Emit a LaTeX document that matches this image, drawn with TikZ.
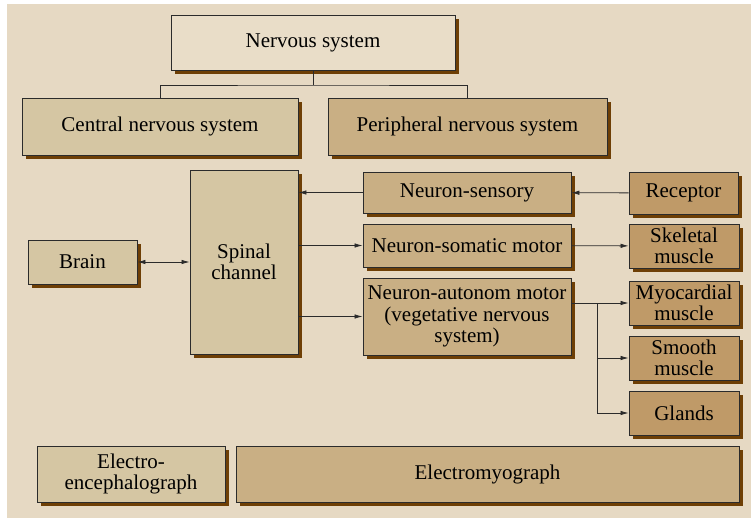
\documentclass[tikz,border=0pt]{standalone}
\usepackage{fontspec}
\setmainfont{Liberation Serif}
\usetikzlibrary{arrows.meta,shadows}
\definecolor{nsback}{HTML}{E6D9C3}
\definecolor{nspale}{HTML}{E9DDC8}
\definecolor{nslite}{HTML}{D5C6A3}
\definecolor{nsmid}{HTML}{C9AF84}
\definecolor{nsdark}{HTML}{BF9A68}
\definecolor{nsshade}{HTML}{6E3F05}
\definecolor{nsline}{HTML}{2B2B2B}
\tikzset{
  bx/.style={draw=nsline, line width=0.9pt, align=center, inner sep=2pt,
    drop shadow={shadow xshift=4pt, shadow yshift=-4pt, fill=nsshade, opacity=1}},
  top/.style={bx, fill=nspale},
  cen/.style={bx, fill=nslite},
  per/.style={bx, fill=nsmid},
  eff/.style={bx, fill=nsdark, minimum width=110pt, minimum height=44pt},
  arr/.style={-{Latex[length=8pt,width=4.5pt]}, line width=0.8pt, color=nsline},
  arr2/.style={{Latex[length=8pt,width=4.5pt]}-{Latex[length=8pt,width=4.5pt]}, line width=0.8pt, color=nsline},
  tree/.style={line width=0.8pt, color=nsline},
}
\begin{document}
\begin{tikzpicture}[x=1pt, y=-1pt, font=\rmfamily\fontsize{21}{21.5}\selectfont,
    nrn/.style={per, minimum width=208pt}]
    \useasboundingbox (0,0) rectangle (751,518);
    \fill[nsback] (7,4) rectangle (751,518);
    % hierarchy
    \node[top, minimum width=284pt, minimum height=55pt] (ns) at (313,42.5) {Nervous system};
    \node[cen, minimum width=276pt, minimum height=57pt] (cns) at (160,126.5) {Central nervous system};
    \node[per, minimum width=279pt, minimum height=57pt] (pns) at (467.5,126.5) {Peripheral nervous system};
    \coordinate (split) at (313,85);
    \draw[tree] (ns) -- (split);
    \draw[tree] (cns.north) |- (split) -| (pns.north);
    % central part
    \node[cen, minimum width=108pt, minimum height=184pt] (spinal) at (244,262) {Spinal\\channel};
    \node[cen, minimum width=109pt, minimum height=44pt] (brain) at (82.5,262) {Brain};
    % neurons
    \node[nrn, minimum height=41pt] (sens) at (467,192.5) {Neuron-sensory};
    \node[nrn, minimum height=43pt] (som) at (467,245.5) {Neuron-somatic motor};
    \node[nrn, minimum height=77pt] (aut) at (467,316.5) {Neuron-autonom motor\\(vegetative nervous\\system)};
    % receptor and effectors
    \node[eff, minimum width=109pt, minimum height=42pt] (rec) at (683.5,193) {Receptor};
    \node[eff] (skel) at (684,246) {Skeletal\\muscle};
    \node[eff] (myo) at (684,303) {Myocardial\\muscle};
    \node[eff] (smooth) at (684,358) {Smooth\\muscle};
    \node[eff] (glands) at (684,413) {Glands};
    % recording methods
    \node[cen, minimum width=188pt, minimum height=56pt] (eeg) at (131,474) {Electro-\\encephalograph};
    \node[per, minimum width=503pt, minimum height=56pt] (emg) at (487.5,474) {Electromyograph};
    % signal paths
    \foreach \a/\b in {rec/sens,som/skel} \draw[arr] (\a) -- (\b);
    \draw[arr2] (brain) -- (spinal);
    \draw[arr] (sens.west) -- (sens.west -| spinal.east);
    \draw[arr] (som.west -| spinal.east) -- (som.west);
    \draw[arr] (aut.west -| spinal.east) -- (aut.west);
    \coordinate (fork) at (597,303);
    \draw[tree] (myo.west -| aut.east) -- (fork) -- (fork |- glands.west);
    \foreach \t in {myo,smooth,glands} \draw[arr] (fork |- \t.west) -- (\t.west);
  \end{tikzpicture}
\end{document}
